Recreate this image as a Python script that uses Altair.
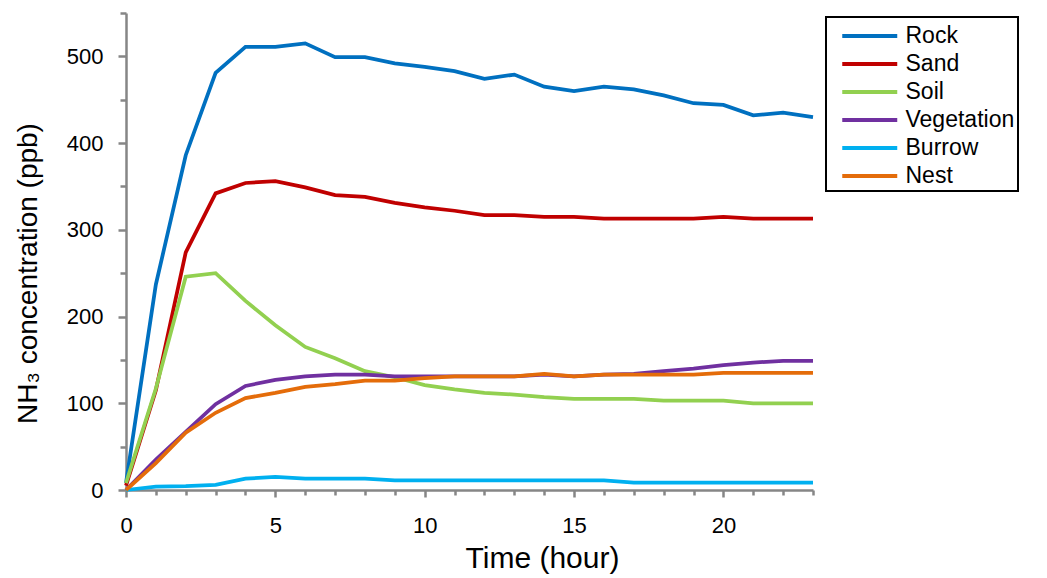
import altair as alt
import pandas as pd

hours = list(range(24))
series_names = ["Rock", "Sand", "Soil", "Vegetation", "Burrow", "Nest"]
series_colors = ["#0070C0", "#C00000", "#92D050", "#7030A0", "#00B0F0", "#E46C0A"]

rock = [8, 237, 386, 481, 511, 511, 515, 499, 499, 492, 488, 483, 474, 479, 465, 460, 465, 462, 455, 446, 444, 432, 435, 430]
sand = [5, 115, 274, 342, 354, 356, 349, 340, 338, 331, 326, 322, 317, 317, 315, 315, 313, 313, 313, 313, 315, 313, 313, 313]
soil = [8, 117, 246, 250, 218, 190, 165, 152, 137, 130, 121, 116, 112, 110, 107, 105, 105, 105, 103, 103, 103, 100, 100, 100]
vegetation = [0, 35, 67, 99, 120, 127, 131, 133, 133, 131, 131, 131, 131, 131, 133, 131, 133, 134, 137, 140, 144, 147, 149, 149]
burrow = [0, 4, 4.5, 6, 13, 15, 13, 13, 13, 11, 11, 11, 11, 11, 11, 11, 11, 8.5, 8.5, 8.5, 8.5, 8.5, 8.5, 8.5]
nest = [0, 31, 66, 89, 106, 112, 119, 122, 126, 126, 129, 131, 131, 131, 134, 131, 133, 133, 133, 133, 135, 135, 135, 135]

series_values = [rock, sand, soil, vegetation, burrow, nest]

rows = []
for i, (name, vals) in enumerate(zip(series_names, series_values)):
    for h, v in zip(hours, vals):
        rows.append({"Time": h, "Value": v, "Series": name, "order": i})
df = pd.DataFrame(rows)

FONT = "Liberation Sans"
AXIS_GRAY = "#868686"

x_axis = alt.Axis(
    values=list(range(0, 24)),
    labelExpr="datum.value % 5 === 0 ? datum.label : ''",
    tickSize={"condition": {"test": "datum.value % 5 === 0", "value": 7}, "value": 5},
    tickColor=AXIS_GRAY, tickWidth=2.5,
    domainColor=AXIS_GRAY, domainWidth=2.5,
    grid=False,
    labelFont=FONT, labelFontSize=22, labelColor="black", labelPadding=18,
    labelFlush=False,
    title="Time (hour)", titleFont=FONT, titleFontSize=30, titleFontWeight="normal",
    titleColor="black", titleX=416, titleY=68, titleBaseline="middle", titleAlign="center",
)

y_axis = alt.Axis(
    values=list(range(0, 551, 50)),
    labelExpr="datum.value % 100 === 0 ? datum.label : ''",
    tickSize={"condition": {"test": "datum.value % 100 === 0", "value": 8}, "value": 6},
    tickColor=AXIS_GRAY, tickWidth=2.5,
    domainColor=AXIS_GRAY, domainWidth=2.5,
    grid=False,
    labelFont=FONT, labelFontSize=22, labelColor="black", labelPadding=15,
    labelFlush=False,
    title="NH₃ concentration (ppb)", titleFont=FONT, titleFontSize=28,
    titleFontWeight="normal", titleColor="black",
    titleX=-98, titleY=260, titleAngle=270, titleBaseline="middle", titleAlign="center",
)

chart = alt.Chart(df).mark_line(strokeWidth=3.75).encode(
    x=alt.X("Time:Q", scale=alt.Scale(domain=[0, 23], nice=False, zero=True), axis=x_axis),
    y=alt.Y("Value:Q", scale=alt.Scale(domain=[0, 550], nice=False), axis=y_axis),
    color=alt.Color(
        "Series:N",
        scale=alt.Scale(domain=series_names, range=series_colors),
        sort=series_names,
        legend=alt.Legend(
            title=None, orient="none", legendX=700, legendY=4,
            symbolType="M-2,0H2", symbolStrokeWidth=4, symbolSize=756,
            symbolOffset=24.75,
            labelFont=FONT, labelFontSize=23, labelColor="black",
            labelOffset=19.75, rowPadding=0,
            strokeColor="black", padding=3,
        ),
    ),
    order=alt.Order("order:Q"),
).properties(
    width=687, height=477,
    autosize=alt.AutoSizeParams(type="none"),
    padding={"left": 126, "top": 13, "right": 234, "bottom": 88},
).configure_view(stroke=None).configure_legend(strokeWidth=2)

chart.save("out.html", embed_options={"renderer": "svg", "actions": False})
